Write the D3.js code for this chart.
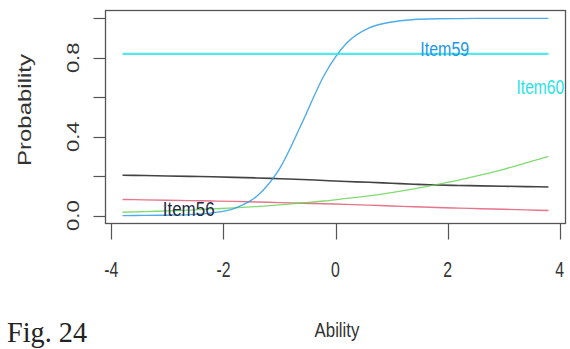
<!DOCTYPE html>
<html>
<head>
<meta charset="utf-8">
<script src="https://cdn.jsdelivr.net/npm/d3@7"></script>
<style>
  html, body { margin: 0; padding: 0; background: #fff; }
  svg { display: block; }
  text { font-family: "Liberation Sans", Arial, sans-serif; fill: #333; }
</style>
</head>
<body>
<svg id="chart" width="570" height="349"></svg>
<script>
// Ability grid and item characteristic curves
const theta  = [-3.8,-3.4,-3.0,-2.6,-2.2,-1.8,-1.4,-1.0,-0.6,-0.2,0.2,0.6,1.0,1.4,1.8,2.2,2.6,3.0,3.4,3.8];
const item56 = [0.205,0.203,0.201,0.199,0.197,0.194,0.191,0.187,0.183,0.178,0.173,0.169,0.164,0.159,0.155,0.153,0.151,0.149,0.147,0.145];
const item57 = [0.082,0.080,0.078,0.076,0.074,0.072,0.069,0.066,0.063,0.060,0.057,0.053,0.049,0.045,0.041,0.038,0.035,0.032,0.029,0.026];
const item58 = [0.017,0.020,0.024,0.028,0.034,0.039,0.046,0.054,0.064,0.074,0.087,0.100,0.117,0.136,0.157,0.180,0.206,0.235,0.267,0.300];
const item59 = [0.000,0.001,0.002,0.005,0.014,0.037,0.099,0.237,0.468,0.713,0.875,0.952,0.982,0.994,0.998,0.999,1.000,1.000,1.000,1.000];
const item60 = [0.82,0.82,0.82,0.82,0.82,0.82,0.82,0.82,0.82,0.82,0.82,0.82,0.82,0.82,0.82,0.82,0.82,0.82,0.82,0.82];

const seriesNames  = ["Item56","Item57","Item58","Item59","Item60"];
const seriesValues = [item56, item57, item58, item59, item60];
const seriesColors = ["#222222","#DF536B","#61D04F","#2297E6","#28E2E5"];

const xTicks = [-4,-2,0,2,4];
const yTicks = [0,0.2,0.4,0.6,0.8,1.0];
const yTickLabels = ["0.0","","0.4","","0.8",""];

const svg = d3.select("#chart");
const box = {left: 105.5, right: 565.5, top: 10.5, bottom: 223.5};

const x = d3.scaleLinear().domain([-4.104, 4.104]).range([box.left, box.right]);
const y = d3.scaleLinear().domain([-0.04, 1.04]).range([box.bottom, box.top]);

// curves
const line = d3.line()
  .x((d, i) => x(theta[i]))
  .y(d => y(d))
  .curve(d3.curveMonotoneX);

const widths = [1.6, 1.4, 1.3, 1.4, 2.2];
svg.append("g").selectAll("path")
  .data(seriesValues)
  .join("path")
  .attr("d", d => line(d))
  .attr("fill", "none")
  .attr("stroke", (d, i) => seriesColors[i])
  .attr("stroke-width", (d, i) => widths[i])
  .attr("stroke-opacity", (d, i) => i === 0 ? 0.85 : 0.8);

// plot frame
svg.append("rect")
  .attr("x", box.left).attr("y", box.top)
  .attr("width", box.right - box.left).attr("height", box.bottom - box.top)
  .attr("fill", "none").attr("stroke", "#555").attr("stroke-width", 1.3);

// x axis ticks and labels
const xAxis = svg.append("g");
xAxis.selectAll("line").data(xTicks).join("line")
  .attr("x1", d => Math.round(x(d)) + 0.5).attr("x2", d => Math.round(x(d)) + 0.5)
  .attr("y1", box.bottom).attr("y2", box.bottom + 16)
  .attr("stroke", "#555").attr("stroke-width", 1.2);
xAxis.selectAll("text").data(xTicks).join("text")
  .attr("transform", d => `translate(${x(d)},${277}) scale(0.72,1)`)
  .attr("text-anchor", "middle")
  .attr("font-size", 22)
  .text(d => d);

// y axis ticks and labels
const yAxis = svg.append("g");
yAxis.selectAll("line").data(yTicks).join("line")
  .attr("x1", box.left - 12).attr("x2", box.left)
  .attr("y1", d => Math.round(y(d)) + 0.5).attr("y2", d => Math.round(y(d)) + 0.5)
  .attr("stroke", "#555").attr("stroke-width", 1.2);
yAxis.selectAll("text").data(yTicks).join("text")
  .attr("transform", d => `translate(${79},${y(d)}) rotate(-90) scale(1,0.75)`)
  .attr("text-anchor", "middle")
  .attr("font-size", 22)
  .text((d, i) => yTickLabels[i]);

// axis titles
svg.append("text")
  .attr("transform", `translate(${337},${337}) scale(0.8,1)`)
  .attr("text-anchor", "middle")
  .attr("font-size", 21)
  .text("Ability");
svg.append("text")
  .attr("transform", `translate(${31},${110}) rotate(-90) scale(1,0.8)`)
  .attr("text-anchor", "middle")
  .attr("font-size", 24)
  .text("Probability");

// item labels
const labels = [
  {name: "Item56", t: -2.62, v: 0.035, color: "#1d2a44", anchor: "middle", sx: 0.85},
  {name: "Item59", t: 1.95, v: 0.845, color: "#2297E6", anchor: "middle", sx: 0.8},
  {name: "Item60", t: 4.08, v: 0.65, color: "#28E2E5", anchor: "end", sx: 0.78}
];
svg.append("g").selectAll("text").data(labels).join("text")
  .attr("transform", d => `translate(${x(d.t)},${y(d.v)}) scale(${d.sx},1)`)
  .attr("text-anchor", d => d.anchor)
  .attr("dy", "0.35em")
  .attr("font-size", 20)
  .style("fill", d => d.color)
  .text(d => d.name);

// figure caption
svg.append("text")
  .attr("x", 7).attr("y", 342)
  .style("font-family", "'Liberation Serif', 'Times New Roman', serif")
  .style("fill", "#222")
  .attr("font-size", 30)
  .attr("textLength", 80)
  .attr("lengthAdjust", "spacingAndGlyphs")
  .text("Fig. 24");
</script>
</body>
</html>
